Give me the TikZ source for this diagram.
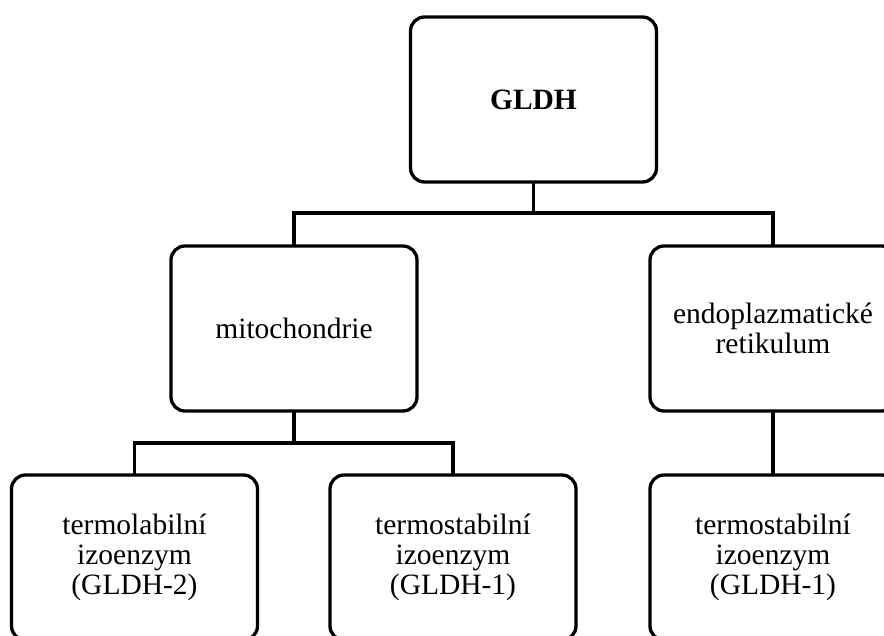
\documentclass[tikz,border=0pt]{standalone}
\usepackage{fontspec}
\setmainfont{Liberation Serif}
\begin{document}
\begin{tikzpicture}[x=1pt,y=-1pt,
  box/.style={draw, line width=3.3pt, rounded corners=14pt, minimum width=246pt, minimum height=165pt,
    align=center, inner sep=0pt, outer sep=0pt, font=\fontsize{29.5}{30}\selectfont},
  conn/.style={line width=3.3pt}]
\useasboundingbox (0,0) rectangle (884,635);
\clip (0,0) rectangle (884,635);
\node[box, font=\bfseries\fontsize{29.5}{30}\selectfont] (top) at (533.5,99.5) {GLDH};
\node[box] (mito) at (294,328.5) {mitochondrie};
\node[box] (er) at (773,328.5) {endoplazmatické\\retikulum};
\node[box] (tl) at (134.5,557.5) {termolabilní\\izoenzym\\(GLDH-2)};
\node[box] (ts) at (453,557.5) {termostabilní\\izoenzym\\(GLDH-1)};
\node[box] (ts2) at (773,557.5) {termostabilní\\izoenzym\\(GLDH-1)};
\coordinate (j1) at (533.5,213);
\coordinate (j2) at (294,443);
\draw[conn] (top.south) -- (j1);
\draw[conn] (mito.north) -- (mito.north |- j1) -- (er.north |- j1) -- (er.north);
\draw[conn] (mito.south) -- (j2);
\draw[conn] (tl.north) -- (tl.north |- j2) -- (ts.north |- j2) -- (ts.north);
\draw[conn] (er.south) -- (ts2.north);
\end{tikzpicture}
\end{document}
